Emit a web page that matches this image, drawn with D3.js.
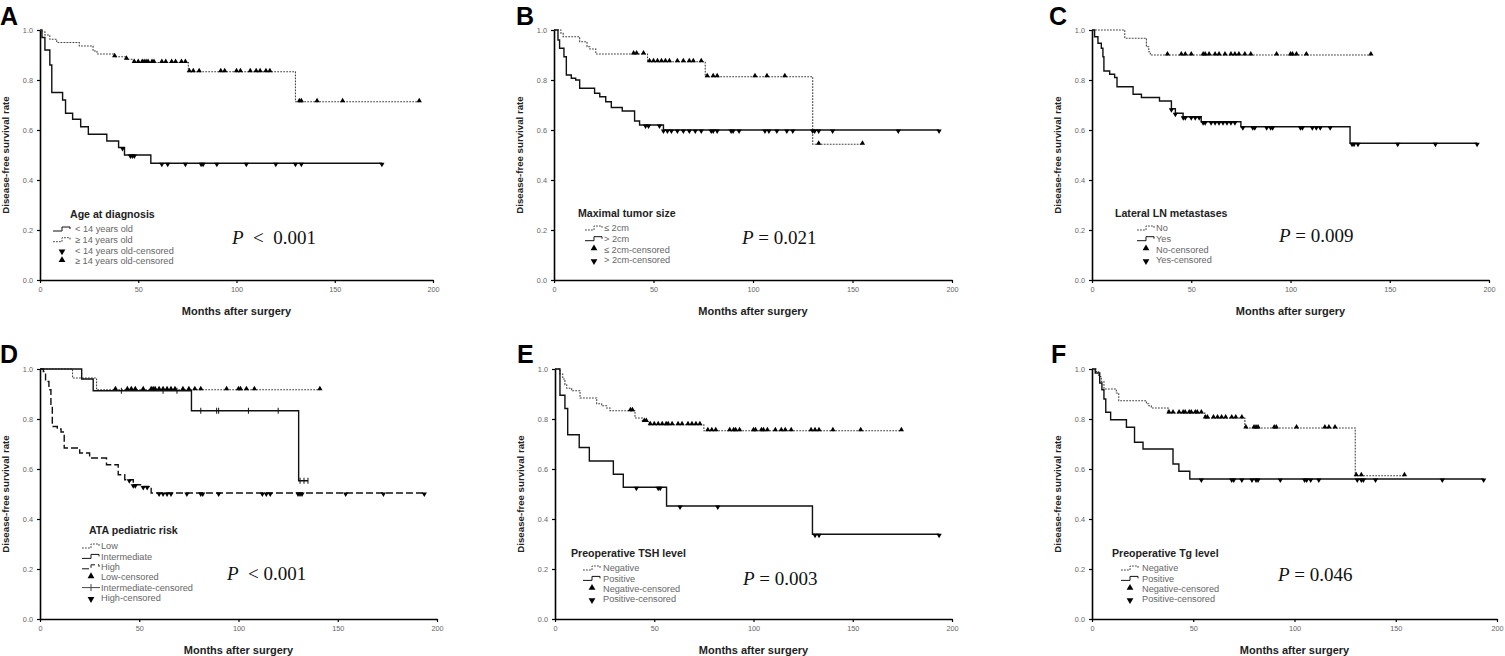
<!DOCTYPE html>
<html>
<head>
<meta charset="utf-8">
<script src="https://cdn.jsdelivr.net/npm/d3@7"></script>
<style>
body { margin: 0; background: #fff; }
svg text { font-family: "Liberation Sans", Arial, sans-serif; }
svg text.pval { font-family: "Liberation Serif", "Times New Roman", serif; }
</style>
</head>
<body>
<svg id="svg" width="1505" height="656"></svg>
<script>
// ---- tick labels ----
var xTicks = [0, 50, 100, 150, 200];
var yTicks = [0, 0.2, 0.4, 0.6, 0.8, 1.0];
var panelLetters = ["A", "B", "C", "D", "E", "F"];
var xLabel = "Months after surgery";
var yLabel = "Disease-free survival rate";

// ---- legend texts ----
var legendTitles = ["Age at diagnosis", "Maximal tumor size", "Lateral LN metastases",
    "ATA pediatric risk", "Preoperative TSH level", "Preoperative Tg level"];
var legendA = ["< 14 years old", "\u2265 14 years old", "< 14 years old-censored", "\u2265 14 years old-censored"];
var legendB = ["\u2264 2cm", "> 2cm", "\u2264 2cm-censored", "> 2cm-censored"];
var legendC = ["No", "Yes", "No-censored", "Yes-censored"];
var legendD = ["Low", "Intermediate", "High", "Low-censored", "Intermediate-censored", "High-censored"];
var legendE = ["Negative", "Positive", "Negative-censored", "Positive-censored"];
var legendF = ["Negative", "Positive", "Negative-censored", "Positive-censored"];
var pTexts = [["P", "  <  0.001"], ["P", " = 0.021"], ["P", " = 0.009"],
    ["P", "  < 0.001"], ["P", " = 0.003"], ["P", " = 0.046"]];

// ---- A: age at diagnosis ----  [month, survival] steps, last follow-up, censored months
var aYoungSteps = [[0, 1], [1, 0.97], [2.5, 0.92], [5, 0.86], [6, 0.75], [11.5, 0.72], [13, 0.667],
    [16.6, 0.643], [20.7, 0.613], [24.6, 0.583], [34, 0.556], [40, 0.53], [43, 0.5], [56.4, 0.467]];
var aYoungEnd = 174;
var aYoungCens = [42, 46, 47, 48, 62, 65, 74, 82, 83, 90, 105, 120, 130, 133, 174];
var aOldSteps = [[0, 1], [1.3, 0.993], [2.5, 0.98], [5, 0.963], [8.5, 0.95], [20, 0.936], [27, 0.916],
    [29, 0.904], [38, 0.893], [44, 0.883], [47.5, 0.87], [75.5, 0.833], [130, 0.713]];
var aOldEnd = 193;
var aOldCens = [38, 44, 48, 50, 52, 53, 54, 55, 57, 58, 62, 64, 67, 69, 72, 74, 76, 78, 81, 92, 94,
    100, 102, 107, 110, 112, 115, 117, 132, 133, 141, 154, 193];

// ---- B: maximal tumor size ----
var bSmallSteps = [[0, 1], [3.5, 0.987], [4.6, 0.973], [12.9, 0.953], [16.6, 0.933], [18, 0.924],
    [21, 0.904], [47, 0.873], [76, 0.813], [130, 0.543]];
var bSmallEnd = 155;
var bSmallCens = [40, 41.5, 45, 48, 50, 52, 54, 56, 58, 62, 65, 68, 70, 74, 77, 80, 82, 101, 107, 116, 133, 155];
var bLargeSteps = [[0, 1], [2, 0.96], [2.8, 0.927], [5, 0.893], [6.2, 0.82], [8.7, 0.807], [10.9, 0.8],
    [12.9, 0.767], [20.4, 0.747], [23, 0.733], [26, 0.713], [28.8, 0.69], [34.3, 0.676], [40.5, 0.636],
    [43, 0.62], [55, 0.6]];
var bLargeEnd = 193.5;
var bLargeCens = [46, 47.5, 53, 55, 57, 59, 62, 65, 68, 71, 74, 79, 80, 82, 89, 90, 93, 106, 108, 112,
    117, 120, 130, 131, 133, 140, 173, 193.5];

// ---- C: lateral LN metastases ----
var cNoSteps = [[0, 1], [16.5, 0.967], [27.4, 0.933], [28.6, 0.913], [29.4, 0.9]];
var cNoEnd = 140.5;
var cNoCens = [38, 45, 47, 50, 56, 57, 59, 62, 64, 67, 70, 72, 74, 77, 80, 93, 100, 101, 103, 108, 140.5];
var cYesSteps = [[0, 1], [1.3, 0.973], [3, 0.947], [4.7, 0.927], [5.5, 0.893], [6, 0.836], [8.9, 0.823],
    [11.4, 0.81], [12.6, 0.773], [20.7, 0.743], [24.9, 0.73], [34, 0.716], [40, 0.685], [42, 0.667],
    [45.9, 0.653], [55, 0.633], [75, 0.613], [130, 0.547]];
var cYesEnd = 194;
var cYesCens = [40, 42, 46, 47, 50, 52, 54, 56, 57, 60, 62, 64, 66, 68, 70, 72, 76, 81, 82, 88, 90, 91,
    105, 106, 111, 113, 115, 120, 131, 132, 134, 154, 173, 194];

// ---- D: ATA pediatric risk ----
var dLowSteps = [[0, 1], [16.4, 0.964], [28.5, 0.917]];
var dLowEnd = 141;
var dLowCens = [38, 44, 46, 48, 52, 56, 57, 58, 60, 62, 64, 66, 68, 72, 75, 78, 81, 94, 100, 101, 104, 108, 141];
var dMidSteps = [[0, 1], [21, 0.96], [26.8, 0.913], [76.3, 0.833], [130.3, 0.553]];
var dMidEnd = 135;
var dMidCens = [41, 62, 69, 81, 89, 90, 105, 120, 131, 133, 135];
var dHighSteps = [[0, 1], [1.7, 0.99], [2.8, 0.95], [4.5, 0.917], [5.5, 0.853], [6.2, 0.77], [8.7, 0.76],
    [10.6, 0.748], [12.2, 0.684], [20, 0.664], [25, 0.644], [33.5, 0.617], [39.4, 0.577], [42.7, 0.557],
    [47, 0.537], [52, 0.53], [56, 0.504]];
var dHighEnd = 193.6;
var dHighCens = [45, 47, 48, 52, 54, 60, 62, 64, 66, 74, 81, 82, 90, 112, 114, 116, 130, 131, 132, 154, 173, 193.6];

// ---- E: preoperative TSH level ----
var eNegSteps = [[0, 1], [2.5, 0.98], [3.9, 0.96], [5, 0.937], [5.9, 0.923], [8.4, 0.913], [12.6, 0.884],
    [21, 0.861], [23.5, 0.853], [26, 0.844], [27.7, 0.833], [40.3, 0.804], [44, 0.79], [47.5, 0.777], [75, 0.753]];
var eNegEnd = 174.5;
var eNegCens = [38, 39, 45, 46, 48, 50, 52, 54, 56, 57, 59, 62, 64, 67, 69, 71, 73, 77, 79, 81, 88, 90,
    91, 93, 100, 101, 104, 105, 107, 111, 114, 116, 119, 129, 131, 133, 140, 154, 174.5];
var ePosSteps = [[0, 1], [2.5, 0.895], [5, 0.842], [6.4, 0.737], [12.2, 0.686], [17.3, 0.632],
    [29.4, 0.579], [34.4, 0.527], [56.2, 0.452], [129.7, 0.339]];
var ePosEnd = 193.5;
var ePosCens = [41, 52, 53, 63, 82, 131, 133, 193.5];

// ---- F: preoperative Tg level ----
var fNegSteps = [[0, 1], [2.1, 0.99], [3.3, 0.97], [4.6, 0.95], [5.9, 0.92], [12, 0.904], [13.2, 0.873],
    [26.9, 0.861], [28, 0.853], [29.3, 0.844], [37.6, 0.824], [55.7, 0.804], [75.5, 0.764], [130, 0.573]];
var fNegEnd = 154.3;
var fNegCens = [38, 40, 43, 45, 46, 48, 49, 51, 52, 54, 56, 57, 60, 62, 64, 66, 69, 71, 74, 76, 80, 81,
    82, 90, 91, 101, 115, 117, 120, 130.5, 133, 154.3];
var fPosSteps = [[0, 1], [1.6, 0.984], [3.8, 0.944], [4.9, 0.917], [5.9, 0.88], [6.8, 0.827], [9.2, 0.797],
    [17, 0.767], [21, 0.707], [25.2, 0.68], [40, 0.62], [42.9, 0.591], [48.3, 0.56]];
var fPosEnd = 193.4;
var fPosCens = [54, 69, 70, 74, 79, 81, 82, 93, 105, 106, 108, 112, 131, 133, 134, 140, 173, 193.4];

// ---- layout ----
var panels = [
    {rect: [40, 30, 433, 280], letter: [0, 25], legend: {tx: 70, ty: 218, ix: 53, tx2: 75, y0: 229, dy: 10.7}, p: [232, 244],
        items: legendA, lines: ["solid", "dot"], marks: ["down", "up"],
        series: [[aYoungSteps, aYoungEnd, aYoungCens, "solid", "down"], [aOldSteps, aOldEnd, aOldCens, "dot", "up"]]},
    {rect: [554, 30, 952, 280], letter: [516, 25], legend: {tx: 578, ty: 217, ix: 585, tx2: 604, y0: 228, dy: 10.7}, p: [742, 244],
        items: legendB, lines: ["dot", "solid"], marks: ["up", "down"],
        series: [[bSmallSteps, bSmallEnd, bSmallCens, "dot", "up"], [bLargeSteps, bLargeEnd, bLargeCens, "solid", "down"]]},
    {rect: [1092, 30, 1489, 280], letter: [1049, 25], legend: {tx: 1115, ty: 217, ix: 1137, tx2: 1156, y0: 228, dy: 10.7}, p: [1279, 242],
        items: legendC, lines: ["dot", "solid"], marks: ["up", "down"],
        series: [[cNoSteps, cNoEnd, cNoCens, "dot", "up"], [cYesSteps, cYesEnd, cYesCens, "solid", "down"]]},
    {rect: [40, 369, 437, 619], letter: [0, 363], legend: {tx: 89, ty: 534, ix: 82, tx2: 101, y0: 546, dy: 10.4}, p: [227, 580],
        items: legendD, lines: ["dot", "solid", "dash"], marks: ["up", "plus", "down"],
        series: [[dLowSteps, dLowEnd, dLowCens, "dot", "up"], [dMidSteps, dMidEnd, dMidCens, "solid", "plus"],
            [dHighSteps, dHighEnd, dHighCens, "dash", "down"]]},
    {rect: [555, 369, 952, 619], letter: [517, 363], legend: {tx: 571, ty: 557, ix: 583, tx2: 603, y0: 568, dy: 10.4}, p: [743, 585],
        items: legendE, lines: ["dot", "solid"], marks: ["up", "down"],
        series: [[eNegSteps, eNegEnd, eNegCens, "dot", "up"], [ePosSteps, ePosEnd, ePosCens, "solid", "down"]]},
    {rect: [1092, 369, 1497, 619], letter: [1051, 363], legend: {tx: 1112, ty: 557, ix: 1121, tx2: 1142, y0: 568, dy: 10.4}, p: [1278, 581],
        items: legendF, lines: ["dot", "solid"], marks: ["up", "down"],
        series: [[fNegSteps, fNegEnd, fNegCens, "dot", "up"], [fPosSteps, fPosEnd, fPosCens, "solid", "down"]]}
];

var lineStyles = {
    solid: {stroke: "#111", width: 1.4, dash: null},
    dot: {stroke: "#444", width: 1.1, dash: "1.8,1.2"},
    dash: {stroke: "#111", width: 1.4, dash: "7,3"}
};

var svg = d3.select("#svg");

function survAt(steps, t) {
    var s = steps[0][1];
    steps.forEach(function (p) {
        if (p[0] <= t) s = p[1];
    });
    return s;
}

function drawMark(g, kind, cx, cy, size) {
    if (kind === "plus") {
        g.append("line").attr("x1", cx).attr("x2", cx).attr("y1", cy - 3).attr("y2", cy + 3)
            .attr("stroke", "#111").attr("stroke-width", 1);
        return;
    }
    var sym = d3.symbol().type(d3.symbolTriangle).size(size);
    var off = kind === "up" ? -1 : 1;
    g.append("path").attr("d", sym())
        .attr("transform", "translate(" + cx + "," + (cy + off) + ")" + (kind === "down" ? " rotate(180)" : ""))
        .attr("fill", "#000");
}

panels.forEach(function (pn, i) {
    var r = pn.rect;
    var x = d3.scaleLinear().domain([0, 200]).range([r[0], r[2]]);
    var y = d3.scaleLinear().domain([0, 1]).range([r[3], r[1]]);
    var g = svg.append("g");

    // axes
    var ax = g.append("g").attr("transform", "translate(0," + r[3] + ")")
        .call(d3.axisBottom(x).tickValues(xTicks).tickSize(3).tickSizeOuter(0).tickPadding(4));
    var ay = g.append("g").attr("transform", "translate(" + r[0] + ",0)")
        .call(d3.axisLeft(y).tickValues(yTicks).tickFormat(d3.format(".1f")).tickSize(3).tickSizeOuter(0).tickPadding(4));
    [ax, ay].forEach(function (a) {
        a.select(".domain").attr("stroke", "#000").attr("stroke-width", 1.6);
        a.selectAll(".tick line").attr("stroke", "#000").attr("stroke-width", 1.2);
        a.selectAll(".tick text").attr("fill", "#666").attr("font-size", "7.3px");
    });

    // axis titles
    g.append("text").attr("x", (r[0] + r[2]) / 2).attr("y", r[3] + 35)
        .attr("text-anchor", "middle").attr("font-size", "11px").attr("font-weight", "bold").attr("fill", "#222")
        .text(xLabel);
    g.append("text").attr("transform", "translate(" + (r[0] - 31.5) + "," + (r[1] + r[3]) / 2 + ") rotate(-90)")
        .attr("text-anchor", "middle").attr("font-size", "9.7px").attr("font-weight", "bold").attr("fill", "#222")
        .text(yLabel);

    // panel letter
    g.append("text").attr("x", pn.letter[0]).attr("y", pn.letter[1])
        .attr("font-size", "25px").attr("font-weight", "bold").attr("fill", "#000")
        .text(panelLetters[i]);

    // curves
    var line = d3.line().x(function (d) { return x(d[0]); }).y(function (d) { return y(d[1]); })
        .curve(d3.curveStepAfter);
    pn.series.forEach(function (s) {
        var steps = s[0], end = s[1], cens = s[2], st = lineStyles[s[3]];
        var pts = steps.concat([[end, steps[steps.length - 1][1]]]);
        g.append("path").attr("d", line(pts)).attr("fill", "none")
            .attr("stroke", st.stroke).attr("stroke-width", st.width)
            .attr("stroke-dasharray", st.dash);
        cens.forEach(function (t) {
            drawMark(g, s[4], x(t), y(survAt(steps, t)), 12);
        });
    });

    // legend
    var L = pn.legend;
    g.append("text").attr("x", L.tx).attr("y", L.ty)
        .attr("font-size", "10.6px").attr("font-weight", "bold").attr("fill", "#222")
        .text(legendTitles[i]);
    var nLines = pn.lines.length;
    pn.items.forEach(function (label, k) {
        var cy = L.y0 + k * L.dy;
        if (k < nLines) {
            var st = lineStyles[pn.lines[k]];
            g.append("path")
                .attr("d", "M" + L.ix + "," + (cy + 2) + "H" + (L.ix + 9) + "V" + (cy - 2) + "H" + (L.ix + 17) + "V" + (cy))
                .attr("fill", "none").attr("stroke", st.stroke).attr("stroke-width", 1)
                .attr("stroke-dasharray", st.dash);
        } else {
            var kind = pn.marks[k - nLines];
            var mx = L.ix + 9;
            if (kind === "plus") {
                g.append("line").attr("x1", L.ix).attr("x2", L.ix + 18).attr("y1", cy).attr("y2", cy)
                    .attr("stroke", "#444").attr("stroke-width", 1);
                g.append("line").attr("x1", mx).attr("x2", mx).attr("y1", cy - 3.5).attr("y2", cy + 3.5)
                    .attr("stroke", "#444").attr("stroke-width", 1);
            } else {
                drawMark(g, kind, mx, cy, 20);
            }
        }
        g.append("text").attr("x", L.tx2).attr("y", cy + 3.2)
            .attr("font-size", "9.2px").attr("fill", "#666")
            .text(label);
    });

    // p value
    var pt = g.append("text").attr("class", "pval").attr("x", pn.p[0]).attr("y", pn.p[1])
        .attr("font-size", "19px").attr("fill", "#111")
        .attr("xml:space", "preserve").style("white-space", "pre");
    pt.append("tspan").attr("font-style", "italic").text(pTexts[i][0]);
    pt.append("tspan").text(pTexts[i][1]);
});
</script>
</body>
</html>
